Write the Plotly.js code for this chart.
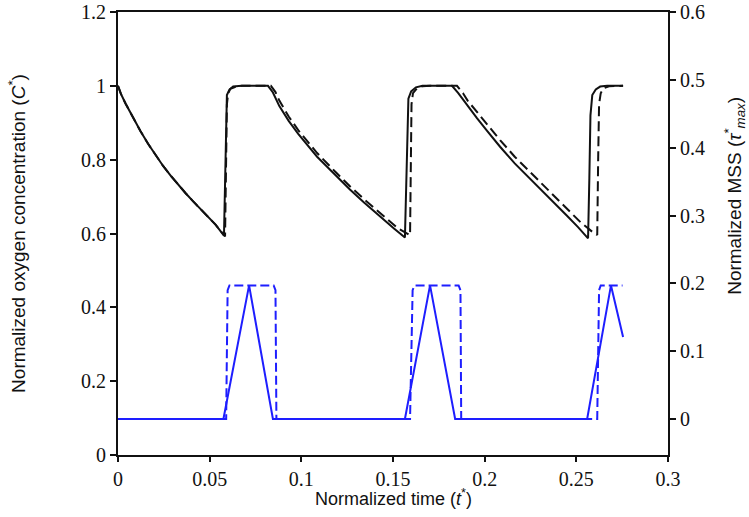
<!DOCTYPE html>
<html>
<head>
<meta charset="utf-8">
<script src="https://cdn.plot.ly/plotly-3.0.1.min.js"></script>
<style>
  html, body {margin: 0; padding: 0; background: #fff;}
  #graph {width: 749px; height: 517px;}
</style>
</head>
<body>
<div id="graph"></div>
<script>
// oxygen concentration, solid and dashed runs (left axis)
var tSolid = [0, 0.0016, 0.0041, 0.0082, 0.0123, 0.0164, 0.0205, 0.0246, 0.0287, 0.0328, 0.0369, 0.041, 0.045, 0.0491, 0.0532, 0.0578,
  0.0585, 0.059, 0.0594, 0.0608, 0.0628, 0.0675, 0.0818,
  0.0845, 0.088, 0.0931, 0.0983, 0.1086, 0.1188, 0.1265, 0.1342, 0.1445, 0.1507, 0.1565,
  0.1572, 0.1579, 0.1584, 0.1599, 0.1625, 0.1661, 0.1822,
  0.1856, 0.1907, 0.1959, 0.201, 0.2084, 0.2164, 0.2264, 0.2349, 0.2449, 0.2508, 0.2564,
  0.2571, 0.2577, 0.2587, 0.2606, 0.263, 0.2668, 0.2755];
var cSolid = [1.0, 0.978, 0.952, 0.914, 0.877, 0.843, 0.812, 0.783, 0.757, 0.732, 0.709, 0.687, 0.666, 0.646, 0.624, 0.594,
  0.75, 0.93, 0.975, 0.99, 0.998, 1.0, 1.0,
  0.982, 0.945, 0.905, 0.87, 0.808, 0.757, 0.719, 0.684, 0.638, 0.613, 0.589,
  0.75, 0.92, 0.965, 0.985, 0.996, 1.0, 1.0,
  0.98, 0.945, 0.912, 0.88, 0.835, 0.79, 0.741, 0.697, 0.648, 0.618, 0.587,
  0.75, 0.92, 0.975, 0.99, 0.998, 1.0, 1.0];

var tDashed = [0, 0.0016, 0.0041, 0.0082, 0.0123, 0.0164, 0.0205, 0.0246, 0.0287, 0.0328, 0.0369, 0.041, 0.045, 0.0491, 0.0532, 0.0584,
  0.059, 0.0594, 0.0601, 0.0613, 0.0644, 0.0675, 0.0834,
  0.0859, 0.088, 0.0931, 0.0983, 0.1086, 0.1188, 0.1265, 0.1342, 0.1445, 0.1527, 0.1593,
  0.1597, 0.1601, 0.1609, 0.163, 0.1661, 0.1702, 0.1849,
  0.1882, 0.1907, 0.1959, 0.201, 0.2084, 0.2164, 0.2264, 0.2349, 0.2449, 0.2524, 0.2591, 0.2614,
  0.2619, 0.2624, 0.2633, 0.2647, 0.2678, 0.2709, 0.2755];
var cDashed = [1.0, 0.978, 0.952, 0.914, 0.877, 0.843, 0.812, 0.783, 0.757, 0.732, 0.709, 0.687, 0.666, 0.646, 0.624, 0.592,
  0.8, 0.95, 0.98, 0.992, 0.998, 1.0, 1.0,
  0.983, 0.96, 0.917, 0.88, 0.818, 0.766, 0.728, 0.693, 0.648, 0.614, 0.595,
  0.8, 0.95, 0.98, 0.993, 0.999, 1.0, 1.0,
  0.98, 0.96, 0.928, 0.897, 0.853, 0.808, 0.758, 0.715, 0.666, 0.63, 0.603, 0.596,
  0.8, 0.95, 0.98, 0.993, 0.999, 1.0, 1.0];

// normalized MSS (right axis)
var tMssSolid = [0, 0.0575, 0.0715, 0.0845, 0.1565, 0.1702, 0.1839, 0.2559, 0.2689, 0.2755];
var mssSolid = [0, 0, 0.197, 0, 0, 0.197, 0, 0, 0.197, 0.121];

var tMssDashed = [0, 0.059, 0.0594, 0.0598, 0.0608, 0.0849, 0.0859, 0.0862, 0.0864,
  0.1593, 0.1601, 0.1607, 0.1618, 0.1858, 0.1868, 0.187, 0.1872,
  0.2614, 0.262, 0.2624, 0.2633, 0.2752];
var mssDashed = [0, 0, 0.1, 0.19, 0.197, 0.197, 0.19, 0.1, 0,
  0, 0.1, 0.19, 0.197, 0.197, 0.19, 0.1, 0,
  0, 0.1, 0.19, 0.197, 0.197];

var black = '#111111', blue = 'rgb(30,30,255)';

function makeLine(x, y, color, dash, axis) {
  return {x: x, y: y, yaxis: axis, mode: 'lines', type: 'scatter',
          line: {color: color, width: 2, dash: dash}, hoverinfo: 'skip'};
}

var data = [
  makeLine(tMssSolid, mssSolid, blue, 'solid', 'y2'),
  makeLine(tMssDashed, mssDashed, blue, '9px,4px', 'y2'),
  makeLine(tSolid, cSolid, black, 'solid', 'y'),
  makeLine(tDashed, cDashed, black, '10px,5px', 'y')
];

var tickFont = {family: '"Liberation Serif", "Times New Roman", serif', size: 20, color: '#111'};
var titleFont = {family: '"Liberation Sans", Arial, sans-serif', size: 19, color: '#111'};

var layout = {
  width: 749, height: 517,
  showlegend: false,
  paper_bgcolor: '#fff', plot_bgcolor: '#fff',
  margin: {l: 118, r: 81, t: 12, b: 62, pad: 0},
  xaxis: {range: [0, 0.3], dtick: 0.05, tick0: 0, showgrid: false, zeroline: false,
          showline: true, linecolor: '#111', linewidth: 2, mirror: true,
          ticks: 'outside', ticklen: 5, tickwidth: 2, tickcolor: '#111',
          tickfont: tickFont},
  yaxis: {range: [0, 1.2], dtick: 0.2, tick0: 0, showgrid: false, zeroline: false,
          showline: true, linecolor: '#111', linewidth: 2,
          ticks: 'outside', ticklen: 6, tickwidth: 2, tickcolor: '#111',
          tickfont: tickFont,
          title: {text: 'Normalized oxygen concentration (<i>C</i><sup>*</sup>)', font: titleFont, standoff: 50}},
  yaxis2: {range: [-0.053, 0.6], dtick: 0.1, tick0: 0, overlaying: 'y', side: 'right',
           showgrid: false, zeroline: false,
           showline: true, linecolor: '#111', linewidth: 2,
           ticks: 'outside', ticklen: 6, tickwidth: 2, tickcolor: '#111',
           tickfont: tickFont},
  annotations: [
    {text: 'Normalized time (<i>t</i><sup>*</sup>)',
     xref: 'paper', yref: 'paper', x: 0.5, y: -0.095,
     xanchor: 'center', yanchor: 'middle',
     showarrow: false, font: {family: titleFont.family, size: 18, color: '#111'}},
    // right title sits above the middle of the axis in the original
    {text: 'Normalized MSS (<i>τ</i><sup>*</sup><sub><i>max</i></sub>)',
     xref: 'paper', yref: 'paper', x: 1.1218, y: 0.585,
     xanchor: 'center', yanchor: 'middle', textangle: -90,
     showarrow: false, font: titleFont}
  ]
};

Plotly.newPlot('graph', data, layout, {staticPlot: true});
</script>
</body>
</html>
